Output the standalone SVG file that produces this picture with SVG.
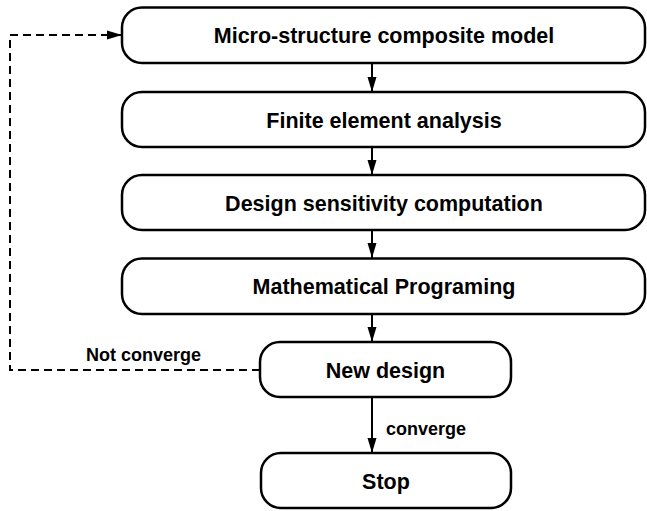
<svg xmlns="http://www.w3.org/2000/svg" width="647" height="511" viewBox="0 0 647 511">
  <defs>
    <marker id="arrow" markerWidth="15" markerHeight="9" refX="15" refY="4.5" viewBox="0 0 15 9" markerUnits="userSpaceOnUse" orient="auto" overflow="visible">
      <path d="M0,0 L15,4.5 L0,9 Z" fill="#000"/>
    </marker>
  </defs>
  <style>
    .box { fill: #fff; stroke: #000; stroke-width: 2.5; }
    .label { font-family: "Liberation Sans", Arial, Helvetica, sans-serif; font-weight: bold; font-size: 21.5px; fill: #000; text-anchor: middle; }
    .note { font-family: "Liberation Sans", Arial, Helvetica, sans-serif; font-weight: bold; font-size: 18px; fill: #000; }
    .flow { fill: none; stroke: #000; stroke-width: 2; }
    .dashed { fill: none; stroke: #000; stroke-width: 2; stroke-dasharray: 8 5; }
  </style>
  <rect width="647" height="511" fill="#fff"/>

  <!-- connectors -->
  <g id="connectors">
    <line class="flow" x1="372" y1="63" x2="372" y2="92" marker-end="url(#arrow)"/>
    <line class="flow" x1="372" y1="147" x2="372" y2="175" marker-end="url(#arrow)"/>
    <line class="flow" x1="372" y1="230" x2="372" y2="258" marker-end="url(#arrow)"/>
    <line class="flow" x1="372" y1="314" x2="372" y2="342" marker-end="url(#arrow)"/>
    <line class="flow" x1="372" y1="397" x2="372" y2="453" marker-end="url(#arrow)"/>
    <text class="note" x="386" y="435">converge</text>
    <polyline class="dashed" points="260,370 10,370 10,35 122,35" marker-end="url(#arrow)"/>
    <text class="note" x="86" y="361">Not converge</text>
  </g>

  <!-- process steps -->
  <g id="micro-structure">
    <rect class="box" x="122" y="7.5" width="523" height="55.5" rx="20" ry="20"/>
    <text class="label" x="384" y="43">Micro-structure composite model</text>
  </g>
  <g id="fea">
    <rect class="box" x="122" y="92" width="523" height="55" rx="20" ry="20"/>
    <text class="label" x="384" y="127.5">Finite element analysis</text>
  </g>
  <g id="sensitivity">
    <rect class="box" x="122" y="175" width="523" height="55" rx="20" ry="20"/>
    <text class="label" x="384" y="210.5">Design sensitivity computation</text>
  </g>
  <g id="math-programming">
    <rect class="box" x="122" y="258.5" width="523" height="55.5" rx="20" ry="20"/>
    <text class="label" x="384" y="294">Mathematical Programing</text>
  </g>
  <g id="new-design">
    <rect class="box" x="260" y="342" width="251" height="55" rx="20" ry="20"/>
    <text class="label" x="385.5" y="377.5">New design</text>
  </g>
  <g id="stop">
    <rect class="box" x="261" y="453" width="250" height="55" rx="20" ry="20"/>
    <text class="label" x="386" y="488.5">Stop</text>
  </g>
</svg>
